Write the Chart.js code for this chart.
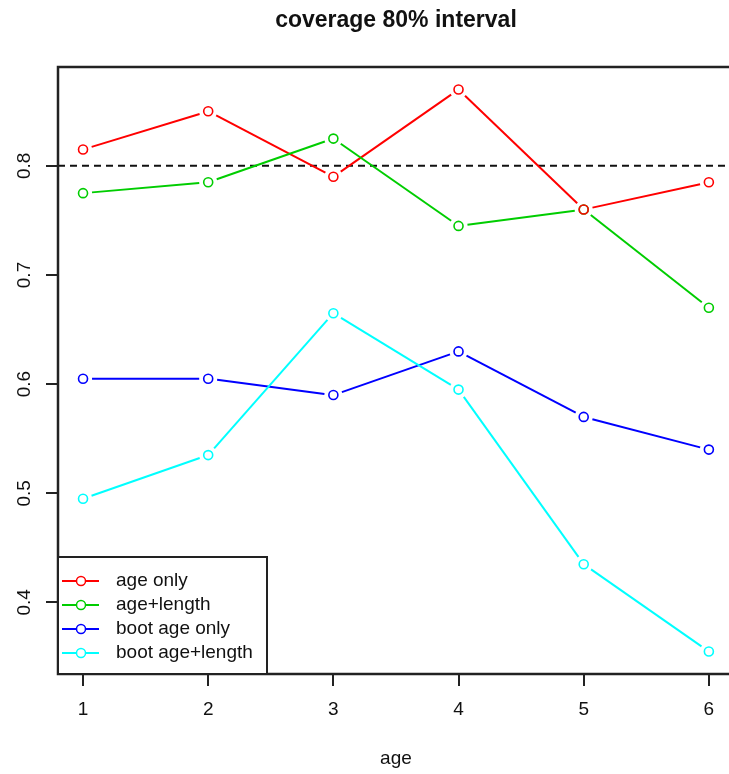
<!DOCTYPE html>
<html>
<head>
<meta charset="utf-8">
<script src="https://cdn.jsdelivr.net/npm/chart.js@4"></script>
<style>
  html, body { margin: 0; padding: 0; background: #fff; overflow: hidden; }
  canvas { display: block; }
</style>
</head>
<body>
<canvas id="chart" width="740" height="774"></canvas>
<script>
const titleText = 'coverage 80% interval';
const xLabel = 'age';
const ages = [1, 2, 3, 4, 5, 6];
const xTicks = [1, 2, 3, 4, 5, 6];
const yTicks = [0.4, 0.5, 0.6, 0.7, 0.8];
const refLine = 0.8;

const seriesNames = ['age only', 'age+length', 'boot age only', 'boot age+length'];
const seriesColors = ['#ff0000', '#00cd00', '#0000ff', '#00ffff'];
const ageOnly = [0.815, 0.85, 0.79, 0.87, 0.76, 0.785];
const ageLength = [0.775, 0.785, 0.825, 0.745, 0.76, 0.67];
const bootAgeOnly = [0.605, 0.605, 0.59, 0.63, 0.57, 0.54];
const bootAgeLength = [0.495, 0.535, 0.665, 0.595, 0.435, 0.355];
const seriesValues = [ageOnly, ageLength, bootAgeOnly, bootAgeLength];

const FONT = '"Liberation Sans", Arial, sans-serif';

// R style: lines between points with a gap around each symbol
const gapLines = {
  id: 'gapLines',
  beforeDatasetsDraw(chart) {
    const ctx = chart.ctx;
    const { left, right } = chart.chartArea;
    const y = chart.scales.y.getPixelForValue(refLine);
    ctx.save();
    ctx.strokeStyle = '#111';
    ctx.lineWidth = 2;
    ctx.setLineDash([7, 5]);
    ctx.beginPath();
    ctx.moveTo(left, y);
    ctx.lineTo(right, y);
    ctx.stroke();
    ctx.setLineDash([]);
    chart.data.datasets.forEach((ds, i) => {
      const pts = chart.getDatasetMeta(i).data;
      ctx.strokeStyle = ds.borderColor;
      ctx.lineWidth = 2;
      for (let k = 0; k < pts.length - 1; k++) {
        const p = pts[k], q = pts[k + 1];
        const dx = q.x - p.x, dy = q.y - p.y;
        const len = Math.hypot(dx, dy);
        const g = 9;
        if (len <= 2 * g) continue;
        const ux = dx / len, uy = dy / len;
        ctx.beginPath();
        ctx.moveTo(p.x + ux * g, p.y + uy * g);
        ctx.lineTo(q.x - ux * g, q.y - uy * g);
        ctx.stroke();
      }
    });
    ctx.restore();
  },
  afterDraw(chart) {
    const ctx = chart.ctx;
    const { left, right, top, bottom } = chart.chartArea;
    const cx = (left + right) / 2;
    ctx.save();
    // frame
    ctx.strokeStyle = '#222';
    ctx.lineWidth = 2.5;
    ctx.strokeRect(left, top, right - left + 10, bottom - top);

    // title and axis label
    ctx.fillStyle = '#111';
    ctx.textAlign = 'center';
    ctx.textBaseline = 'middle';
    ctx.font = 'bold 23px ' + FONT;
    ctx.fillText(titleText, cx, 21);
    ctx.font = '19px ' + FONT;
    ctx.fillText(xLabel, cx, 759);

    // rotated y tick labels
    yTicks.forEach((v) => {
      const y = chart.scales.y.getPixelForValue(v);
      ctx.save();
      ctx.translate(25, y);
      ctx.rotate(-Math.PI / 2);
      ctx.fillText(String(v), 0, 0);
      ctx.restore();
    });

    // legend box
    const bx = left, by = 557, bw = 209, bh = bottom - by;
    ctx.fillStyle = '#fff';
    ctx.fillRect(bx, by, bw, bh);
    ctx.strokeStyle = '#222';
    ctx.lineWidth = 2;
    ctx.strokeRect(bx, by, bw, bh);
    ctx.textAlign = 'left';
    ctx.font = '19px ' + FONT;
    seriesNames.forEach((name, i) => {
      const y = 581 + i * 24;
      ctx.strokeStyle = seriesColors[i];
      ctx.lineWidth = 2;
      ctx.beginPath();
      ctx.moveTo(bx + 4, y);
      ctx.lineTo(bx + 41, y);
      ctx.stroke();
      ctx.fillStyle = '#fff';
      ctx.lineWidth = 1.5;
      ctx.beginPath();
      ctx.arc(bx + 23, y, 4.5, 0, Math.PI * 2);
      ctx.fill();
      ctx.stroke();
      ctx.fillStyle = '#111';
      ctx.fillText(name, bx + 58, y);
    });
    ctx.restore();
  }
};

new Chart(document.getElementById('chart'), {
  type: 'scatter',
  data: {
    datasets: seriesValues.map((vals, i) => ({
      label: seriesNames[i],
      data: vals.map((v, k) => ({ x: ages[k], y: v })),
      showLine: false,
      borderColor: seriesColors[i],
      pointBorderColor: seriesColors[i],
      pointBackgroundColor: 'rgba(0,0,0,0)',
      pointRadius: 4.5,
      pointBorderWidth: 1.6,
      pointHoverRadius: 4.5
    }))
  },
  options: {
    responsive: false,
    animation: false,
    layout: { padding: { top: 67, left: 0, right: 1, bottom: 0 } },
    plugins: { legend: { display: false }, title: { display: false }, tooltip: { enabled: false } },
    scales: {
      x: {
        type: 'linear',
        min: 0.8,
        max: 6.2,
        afterBuildTicks: (s) => { s.ticks = xTicks.map((v) => ({ value: v })); },
        afterFit: (s) => { s.height = 100; },
        border: { display: false },
        grid: { drawOnChartArea: false, drawTicks: true, tickLength: 12, color: '#222', lineWidth: 2 },
        ticks: { color: '#111', font: { family: FONT, size: 19 }, padding: 12, maxRotation: 0 }
      },
      y: {
        type: 'linear',
        min: 0.3344,
        max: 0.8906,
        afterBuildTicks: (s) => { s.ticks = yTicks.map((v) => ({ value: v })); },
        afterFit: (s) => { s.width = 58; },
        border: { display: false },
        grid: { drawOnChartArea: false, drawTicks: true, tickLength: 12, color: '#222', lineWidth: 2 },
        ticks: { display: false }
      }
    }
  },
  plugins: [gapLines]
});
</script>
</body>
</html>
